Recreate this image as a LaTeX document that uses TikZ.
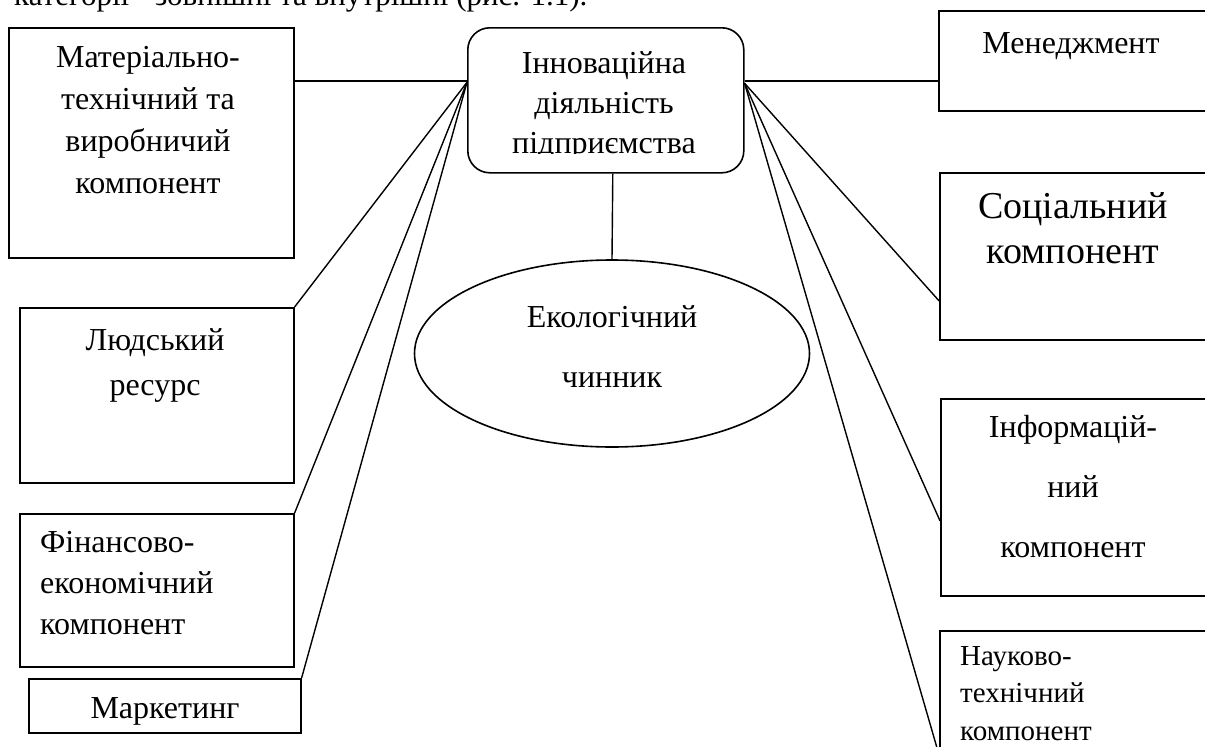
\documentclass[tikz,border=0pt]{standalone}
\usepackage{fontspec}
\setmainfont{Liberation Serif}
\usetikzlibrary{shapes.geometric}
\tikzset{
  box/.style={draw, line width=1.6pt, rectangle, inner sep=0pt, anchor=north west},
  conn/.style={line width=1.4pt},
  lbl/.style={inner sep=0pt, font=\fontsize{32}{42}\selectfont},
}
\begin{document}
\begin{tikzpicture}[x=1pt,y=-1pt]
\clip (0,0) rectangle (1205,747);
% clipped running text at the top
\node[lbl, font=\fontsize{31}{40}\selectfont, anchor=base west] (top) at (14,5) {категорії - зовнішні та внутрішні (рис. 1.1).};

% boxes
\node[box, minimum width=285pt, minimum height=230pt] (mat) at (8,27) {};
\node[box, rounded corners=22pt, minimum width=276pt, minimum height=145pt] (c) at (467,27) {};
\node[box, minimum width=274pt, minimum height=175pt] (lud) at (19,307) {};
\node[box, minimum width=274pt, minimum height=153pt] (fin) at (19,513) {};
\node[box, minimum width=272pt, minimum height=54pt] (mark) at (28,678) {};
\node[box, minimum width=272pt, minimum height=100pt] (men) at (938,10) {};
\node[box, minimum width=270pt, minimum height=167pt] (soc) at (939,172) {};
\node[box, minimum width=270pt, minimum height=197pt] (inf) at (940,398) {};
\node[box, minimum width=270pt, minimum height=248pt] (nauk) at (939,630) {};
\node[draw, ellipse, line width=1.6pt, inner sep=0pt, minimum width=395pt, minimum height=187pt] (eco) at (612,353.5) {};

% labels
\node[lbl, align=center, anchor=north] (tmat) at (148,37) {\rule{0pt}{30pt}Матеріально-\\технічний та\\виробничий\\компонент};
\begin{scope}
  \clip (467,27) rectangle (743,153.5);
  \node[lbl, font=\fontsize{32}{40}\selectfont, align=center, anchor=north] (tc) at (604,43) {\rule{0pt}{30pt}Інноваційна\\діяльність\\підприємства};
\end{scope}
\node[lbl, font=\fontsize{32}{45}\selectfont, align=center, anchor=north] (tlud) at (155,320) {\rule{0pt}{30pt}Людський\\ресурс};
\node[lbl, font=\fontsize{32}{41}\selectfont, align=left, anchor=north west] (tfin) at (40,522) {\rule{0pt}{30pt}Фінансово-\\економічний\\компонент};
\node[lbl, anchor=base] (tmark) at (165,718) {Маркетинг};
\node[lbl, anchor=base] (tmen) at (1071,53) {Менеджмент};
\node[lbl, font=\fontsize{38}{45}\selectfont, align=center, anchor=north] (tsoc) at (1073,183) {\rule{0pt}{35pt}Соціальний\\компонент};
\node[lbl, font=\fontsize{32}{60}\selectfont, align=center, anchor=north] (tinf) at (1073,407) {\rule{0pt}{30pt}Інформацій-\\ний\\компонент};
\node[lbl, font=\fontsize{29}{37.5}\selectfont, align=left, anchor=north west] (tnauk) at (960,638) {\rule{0pt}{27pt}Науково-\\технічний\\компонент};
\node[lbl, font=\fontsize{32}{60}\selectfont, align=center, anchor=north] (teco) at (612,297) {\rule{0pt}{30pt}Екологічний\\чинник};

% connectors
\draw[conn] ([yshift=62pt]mat.east) -- ([yshift=19.5pt]c.west);
\draw[conn] (lud.north east) -- ([yshift=18pt]c.west);
\draw[conn] (fin.north east) -- ([yshift=18pt]c.west);
\draw[conn] (mark.north east) -- ([yshift=18pt]c.west);
\draw[conn] ([yshift=19.5pt]c.east) -- ([yshift=-20pt]men.west);
\draw[conn] ([yshift=17pt]c.east) -- ([yshift=-44.5pt]soc.west);
\draw[conn] ([yshift=17pt]c.east) -- ([yshift=-23.5pt]inf.west);
\draw[conn] ([yshift=17pt]c.east) -- (nauk.west);
\draw[conn] ([xshift=7pt]c.south) -- (eco.north);
\end{tikzpicture}
\end{document}
